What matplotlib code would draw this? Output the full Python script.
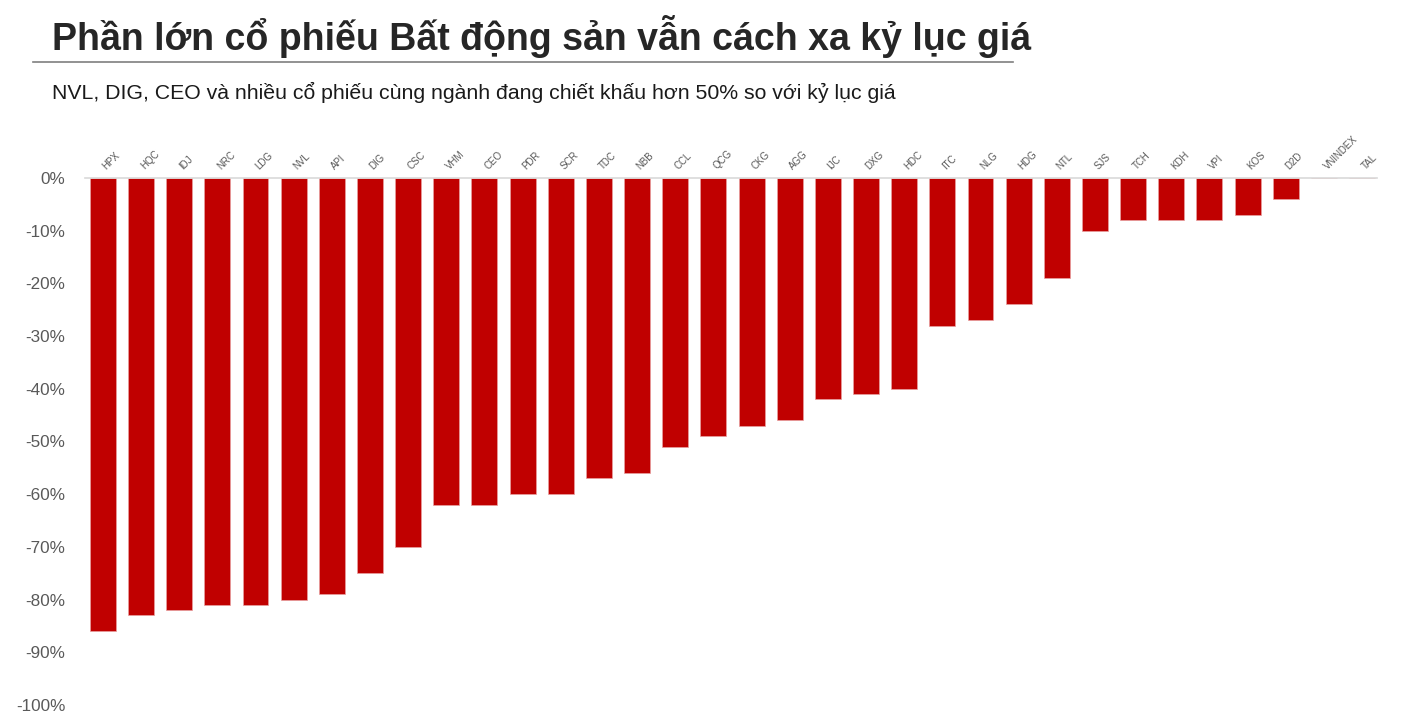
import matplotlib
matplotlib.use("Agg")
import matplotlib.pyplot as plt
import matplotlib.transforms as mtransforms
from matplotlib.lines import Line2D
from matplotlib.ticker import FuncFormatter

plt.rcParams['font.family'] = ['Liberation Sans', 'DejaVu Sans']

# Data: discount vs. record price (%)
tickers = ["HPX", "HQC", "IDJ", "NRC", "LDG", "NVL", "API", "DIG", "CSC", "VHM",
           "CEO", "PDR", "SCR", "TDC", "NBB", "CCL", "QCG", "CKG", "AGG", "IJC",
           "DXG", "HDC", "ITC", "NLG", "HDG", "NTL", "SJS", "TCH", "KDH", "VPI",
           "KOS", "D2D", "VNINDEX", "TAL"]
discount = [-86, -83, -82, -81, -81, -80, -79, -75, -70, -62,
            -62, -60, -60, -57, -56, -51, -49, -47, -46, -42,
            -41, -40, -28, -27, -24, -19, -10, -8, -8, -8,
            -7, -4, 0, 0]
y_ticks = list(range(0, -101, -10))

title = "Phần lớn cổ phiếu Bất động sản vẫn cách xa kỷ lục giá"
subtitle = "NVL, DIG, CEO và nhiều cổ phiếu cùng ngành đang chiết khấu hơn 50% so với kỷ lục giá"

fig = plt.figure(figsize=(14.04, 7.27), dpi=100)
ax = fig.add_axes([0.0605, 0.0303, 0.9205, 0.7249])

x = range(len(tickers))
ax.bar(x, discount, width=0.68, color="#C00000", edgecolor="#e8a0a0", linewidth=0.5)

ax.set_ylim(-100, 0)
ax.set_xlim(-0.47, 33.4)
ax.set_yticks(y_ticks)
ax.yaxis.set_major_formatter(FuncFormatter(lambda v, p: f"{int(v)}%"))
ax.tick_params(axis="y", length=0, pad=14, labelsize=12.3, labelcolor="#595959")

ax.xaxis.tick_top()
ax.set_xticks(list(x))
ax.set_xticklabels(tickers, rotation=45, ha="left", va="bottom",
                   rotation_mode="anchor", fontsize=7, color="#595959")
ax.tick_params(axis="x", length=0, pad=5)
# nudge the rotated labels so they start over the bar centre
shift = mtransforms.ScaledTranslation(5 / 100, 0, fig.dpi_scale_trans)
for lbl in ax.get_xticklabels():
    lbl.set_transform(lbl.get_transform() + shift)

for s in ["left", "right", "bottom"]:
    ax.spines[s].set_visible(False)
ax.spines["top"].set_color("#d9d9d9")
ax.spines["top"].set_linewidth(1.2)

fig.text(52 / 1404, 1 - 37 / 727, title, fontsize=27, fontweight="bold",
         color="#262626", va="center", ha="left")
fig.add_artist(Line2D([33 / 1404, 1013 / 1404], [1 - 62 / 727, 1 - 62 / 727],
                      color="#7f7f7f", linewidth=1.2))
fig.text(52 / 1404, 1 - 92 / 727, subtitle, fontsize=15.3, color="#1a1a1a",
         va="center", ha="left")

fig.savefig("out.png", dpi=100)
